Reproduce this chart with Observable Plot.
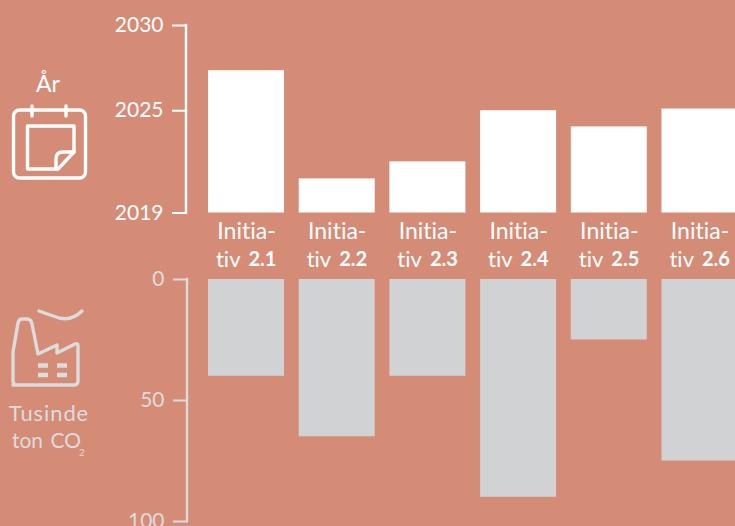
<!DOCTYPE html>
<html><head><meta charset="utf-8">
<script src="https://cdn.jsdelivr.net/npm/d3@7"></script>
<script src="https://cdn.jsdelivr.net/npm/@observablehq/plot@0.6"></script>
<style>
html,body{margin:0;padding:0;width:735px;height:526px;overflow:hidden;background:#D58C77}
#top,#bot,#ico{position:absolute;left:0}
#top{top:0}#bot{top:270px}#ico{top:0;pointer-events:none}
svg{display:block;background:transparent!important;overflow:visible}
svg text{font-variant-ligatures:none}
</style></head><body>
<div id="top"></div><div id="bot"></div>
<svg id="ico" width="735" height="526" viewBox="0 0 735 526" font-family="Lato, sans-serif">
  <text x="48" y="92" text-anchor="middle" font-size="23" fill="#fff">År</text>
  <g fill="none" stroke="#fff" stroke-width="3.400" stroke-linejoin="round" stroke-linecap="round">
    <rect x="13.500" y="110" width="72" height="68" rx="6"/>
    <path d="M32 106V116M66 106V116"/>
    <path d="M27.500 126H74V152L58 169H27.500Z"/>
    <path d="M74 152H63Q56 152 56 159V169"/>
  </g>
  <g fill="none" stroke="#DCDCDC" stroke-width="3.400" stroke-linejoin="round" stroke-linecap="round">
    <path d="M13 385H74Q78 385 78 381V346Q78 343 75 344L57 353V345L38 354L32 324Q31 319 27 319H22Q19 319 18 323L13 352V381Q13 385 17 385Z"/>
    <path d="M39 311Q50 315 59 318Q72 321 82 311"/>
  </g>
  <g fill="none" stroke="#DCDCDC" stroke-width="4.500">
    <path d="M38 365.500H48M57 365.500H67M38 375H48M57 375H67"/>
  </g>
  <g fill="#DCDCDC" text-anchor="middle">
    <text x="49" y="421" font-size="22" letter-spacing=".9">Tusinde</text>
    <text x="46.500" y="448" font-size="21" word-spacing="2">ton CO</text>
    <text x="82" y="456" font-size="10">2</text>
  </g>
</svg>
<script>
const initiatives = ["2.1","2.2","2.3","2.4","2.5","2.6"];
const years = [2027.35,2021,2022,2025,2024.05,2025.1];
const tons = [40,65,40,90,25,75];
const yearTicks = [2019,2025,2030];
const tonTicks = [0,50,100];
const firstLine = "Initia-";
const secondLine = "tiv";
const font = "Lato, sans-serif";
const xOpt = {domain:initiatives,range:[208,737.5],paddingInner:0.162,paddingOuter:0,align:0,round:false,axis:null};
const rows = initiatives.map((k,i)=>({k,year:years[i],ton:tons[i]}));

const topChart = Plot.plot({
  width:735,height:270,marginTop:0,marginBottom:0,marginLeft:187,marginRight:0,
  style:{background:"transparent",fontFamily:font,overflow:"visible"},
  x:xOpt,
  y:{domain:[2019,2030],range:[212.5,25],axis:null},
  marks:[
    Plot.barY(rows,{x:"k",y1:()=>2019,y2:"year",fill:"#fff"}),
    Plot.axisY({ticks:yearTicks,tickFormat:d3.format("d"),anchor:"left",label:null,tickSize:15,tickPadding:9,fontSize:21,color:"#fff",stroke:"#fff",strokeWidth:2}),
    Plot.text(rows,{x:"k",y:()=>2019,text:()=>firstLine,dy:19,fontSize:23,fill:"#fff",letterSpacing:2.5}),
    Plot.text(rows,{x:"k",y:()=>2019,text:()=>secondLine,dy:47,dx:-6,textAnchor:"end",fontSize:22,fill:"#fff",letterSpacing:1}),
    Plot.text(rows,{x:"k",y:()=>2019,text:"k",dy:47,dx:2,textAnchor:"start",fontSize:20,fontWeight:"bold",fill:"#fff"})
  ]
});
document.getElementById("top").append(topChart);

const botChart = Plot.plot({
  width:735,height:256,marginTop:0,marginBottom:0,marginLeft:188,marginRight:0,
  style:{background:"transparent",fontFamily:font,overflow:"visible"},
  x:xOpt,
  y:{domain:[0,100],range:[9,251],axis:null},
  marks:[
    Plot.barY(rows,{x:"k",y1:()=>0,y2:"ton",fill:"#D0D2D3"}),
    Plot.axisY({ticks:tonTicks,tickFormat:d3.format("d"),anchor:"left",label:null,tickSize:15,tickPadding:9,fontSize:21,color:"#DCDCDC",stroke:"#DCDCDC",strokeWidth:2})
  ]
});
document.getElementById("bot").append(botChart);

// Axis spines, drawn on the same scales
function spine(chart, domain, x, color){
  const y = chart.scale("y");
  d3.select(chart).append("line").attr("x1",x).attr("x2",x)
    .attr("y1",y.apply(domain[0])).attr("y2",y.apply(domain[1]))
    .attr("stroke",color).attr("stroke-width",2.4).attr("stroke-linecap","square");
}
spine(topChart,[2019,2030],186,"#fff");
spine(botChart,[0,100],187,"#DCDCDC");
</script>
</body></html>
